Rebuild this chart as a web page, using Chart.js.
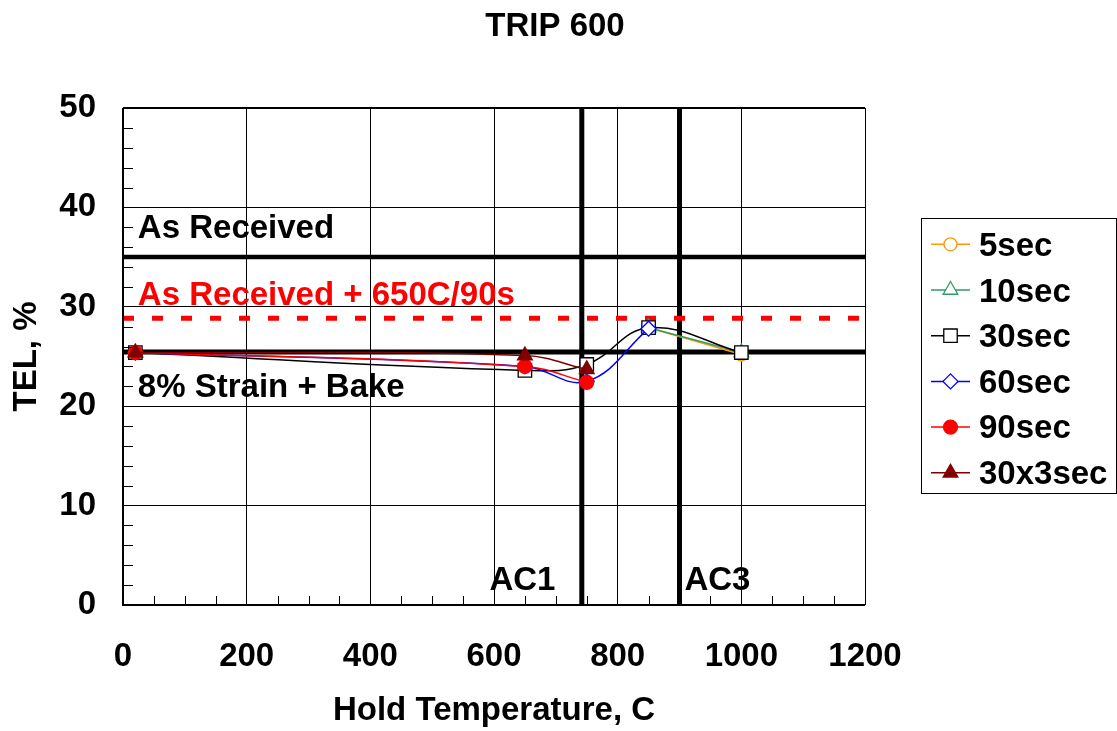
<!DOCTYPE html>
<html>
<head>
<meta charset="utf-8">
<script src="https://cdn.jsdelivr.net/npm/chart.js@4.4.1/dist/chart.umd.min.js"></script>
<style>
  html, body { margin: 0; padding: 0; background: #fff; }
  #wrap { width: 1117px; height: 731px; position: relative; }
</style>
</head>
<body>
<div id="wrap"><canvas id="c" width="1117" height="731"></canvas></div>
<script>
// Hold temperatures (C) and total elongation (%) for each hold time
const temps5 = [850, 1000];
const tel5 = [27.9, 25.2];
const temps10 = [850, 1000];
const tel10 = [27.9, 25.4];
const temps30 = [20, 650, 750, 850, 1000];
const tel30 = [25.4, 23.6, 24.2, 27.9, 25.4];
const temps60 = [20, 650, 750, 850];
const tel60 = [25.4, 24.0, 22.5, 27.8];
const temps90 = [20, 650, 750];
const tel90 = [25.4, 24.0, 22.4];
const temps30x3 = [20, 650, 750];
const tel30x3 = [25.4, 25.1, 23.7];

// Reference levels and transformation temperatures
const asReceived = 35;
const asReceived650 = 28.85;
const strainBake = 25.45;
const ac1 = 742;
const ac3 = 900;

const xTicks = [0, 200, 400, 600, 800, 1000, 1200];
const yTicks = [0, 10, 20, 30, 40, 50];

const FONT = '"Liberation Sans", Arial, sans-serif';
const FS = 33;

function pts(xs, ys) { return xs.map((x, i) => ({ x: x, y: ys[i] })); }

const series = [
  { label: '5sec', data: pts(temps5, tel5), color: '#FF9900', style: 'circle', fill: '#fff', r: 6.5 },
  { label: '10sec', data: pts(temps10, tel10), color: '#339966', style: 'triangle', fill: '#fff', r: 8.5 },
  { label: '30sec', data: pts(temps30, tel30), color: '#000000', style: 'rect', fill: '#fff', r: 9.5 },
  { label: '60sec', data: pts(temps60, tel60), color: '#0000FF', style: 'rectRot', fill: '#fff', r: 7.5 },
  { label: '90sec', data: pts(temps90, tel90), color: '#FF0000', style: 'circle', fill: '#FF0000', r: 7 },
  { label: '30x3sec', data: pts(temps30x3, tel30x3), color: '#800000', style: 'triangle', fill: '#800000', r: 8.5 }
];

const refLines = [
  { data: [{ x: 0, y: asReceived }, { x: 1200, y: asReceived }], color: '#000', width: 4.5, dash: [] },
  { data: [{ x: 0, y: asReceived650 }, { x: 1200, y: asReceived650 }], color: '#FF0000', width: 5, dash: [11, 18] },
  { data: [{ x: 0, y: strainBake }, { x: 1200, y: strainBake }], color: '#000', width: 5, dash: [] },
  { data: [{ x: ac1, y: 0 }, { x: ac1, y: 50 }], color: '#000', width: 5, dash: [] },
  { data: [{ x: ac3, y: 0 }, { x: ac3, y: 50 }], color: '#000', width: 5, dash: [] }
];

const datasets = [];
refLines.forEach((l) => {
  datasets.push({
    data: l.data, showLine: true, borderColor: l.color, borderWidth: l.width,
    borderDash: l.dash, pointRadius: 0, pointHoverRadius: 0, tension: 0,
    borderCapStyle: 'butt', order: 20
  });
});
series.forEach((s, i) => {
  datasets.push({
    label: s.label, data: s.data, showLine: true, borderColor: s.color, borderWidth: 1.5,
    backgroundColor: s.fill, pointBackgroundColor: s.fill, pointBorderColor: s.color,
    pointBorderWidth: 1.3, pointStyle: s.style, pointRadius: s.r, tension: 0.4,
    order: 10 - i
  });
});

// Labels placed in data coordinates (alphabetic baseline)
const notes = [
  { text: 'As Received', x: 24, y: 36.9, color: '#000', align: 'left' },
  { text: 'As Received + 650C/90s', x: 24, y: 30.2, color: '#FF0000', align: 'left' },
  { text: '8% Strain + Bake', x: 24, y: 20.9, color: '#000', align: 'left' },
  { text: 'AC1', x: 646, y: 1.5, color: '#000', align: 'center' },
  { text: 'AC3', x: 908, y: 1.5, color: '#000', align: 'left' }
];

const decor = {
  id: 'decor',
  afterDatasetsDraw(chart) {
    const ctx = chart.ctx;
    const xs = chart.scales.x, ys = chart.scales.y;
    const a = chart.chartArea;
    ctx.save();
    // minor ticks
    ctx.strokeStyle = '#000';
    ctx.lineWidth = 1;
    for (let v = 0; v <= 50; v += 2) {
      if (v % 10 === 0) continue;
      const y = Math.round(ys.getPixelForValue(v)) + 0.5;
      ctx.beginPath(); ctx.moveTo(a.left, y); ctx.lineTo(a.left + 10, y); ctx.stroke();
    }
    for (let v = 0; v <= 1200; v += 50) {
      if (v % 200 === 0) continue;
      const x = Math.round(xs.getPixelForValue(v)) + 0.5;
      ctx.beginPath(); ctx.moveTo(x, a.bottom); ctx.lineTo(x, a.bottom - 9); ctx.stroke();
    }
    // axis frame
    ctx.lineWidth = 2;
    ctx.beginPath();
    ctx.moveTo(a.left, a.top); ctx.lineTo(a.left, a.bottom); ctx.lineTo(a.right, a.bottom);
    ctx.moveTo(a.left, a.top); ctx.lineTo(a.right, a.top);
    ctx.stroke();
    ctx.lineWidth = 1;
    ctx.beginPath(); ctx.moveTo(a.right + 0.5, a.top); ctx.lineTo(a.right + 0.5, a.bottom); ctx.stroke();
    // notes
    ctx.font = 'bold ' + FS + 'px ' + FONT;
    ctx.textBaseline = 'alphabetic';
    notes.forEach((n) => {
      ctx.fillStyle = n.color;
      ctx.textAlign = n.align;
      ctx.fillText(n.text, xs.getPixelForValue(n.x), ys.getPixelForValue(n.y));
    });
    ctx.restore();
  },
  afterDraw(chart) {
    const ctx = chart.ctx;
    ctx.save();
    // title
    ctx.fillStyle = '#000';
    ctx.font = 'bold ' + FS + 'px ' + FONT;
    ctx.textAlign = 'center';
    ctx.textBaseline = 'alphabetic';
    ctx.fillText('TRIP 600', 555, 36);
    // legend box
    const bx = 921.5, by = 218.5, bw = 195, bh = 275;
    ctx.strokeStyle = '#000';
    ctx.lineWidth = 1;
    ctx.strokeRect(bx, by, bw, bh);
    ctx.textAlign = 'left';
    series.forEach((s, i) => {
      const cy = 244.3 + i * 45.7;
      ctx.strokeStyle = s.color;
      ctx.lineWidth = 1.5;
      ctx.beginPath(); ctx.moveTo(931, cy); ctx.lineTo(970, cy); ctx.stroke();
      ctx.fillStyle = s.fill;
      ctx.strokeStyle = s.color;
      ctx.lineWidth = 1.3;
      Chart.helpers.drawPoint(ctx, {
        pointStyle: s.style, radius: s.r, borderWidth: 1.3
      }, 950.5, cy);
      ctx.fillStyle = '#000';
      ctx.fillText(s.label, 979, 256 + i * 45.5);
    });
    ctx.restore();
  }
};

new Chart(document.getElementById('c'), {
  type: 'scatter',
  data: { datasets: datasets },
  options: {
    responsive: false,
    animation: false,
    events: [],
    layout: { padding: { top: 108, right: 252, left: 0, bottom: 0 } },
    plugins: { legend: { display: false }, title: { display: false }, tooltip: { enabled: false } },
    scales: {
      x: {
        type: 'linear', min: 0, max: 1200,
        afterBuildTicks(s) { s.ticks = xTicks.map((v) => ({ value: v })); },
        afterFit(s) { s.height = 126; },
        border: { display: false },
        grid: { color: '#000', lineWidth: 1, drawTicks: false },
        ticks: { color: '#000', font: { family: FONT, size: FS, weight: 'bold' }, padding: 32, maxRotation: 0,
          callback: (v) => String(v) },
        title: { display: true, text: 'Hold Temperature, C', color: '#000',
          font: { family: FONT, size: FS, weight: 'bold' }, padding: { top: 0, bottom: 0 } }
      },
      y: {
        type: 'linear', min: 0, max: 50,
        afterBuildTicks(s) { s.ticks = yTicks.map((v) => ({ value: v })); },
        afterFit(s) { s.width = 123; },
        border: { display: false },
        grid: { color: '#000', lineWidth: 1, drawTicks: false },
        ticks: { color: '#000', font: { family: FONT, size: FS, weight: 'bold' }, padding: 27,
          callback: (v) => String(v) },
        title: { display: true, text: 'TEL, %', color: '#000',
          font: { family: FONT, size: FS, weight: 'bold' }, padding: { top: 7, bottom: 0 } }
      }
    }
  },
  plugins: [decor]
});
</script>
</body>
</html>
